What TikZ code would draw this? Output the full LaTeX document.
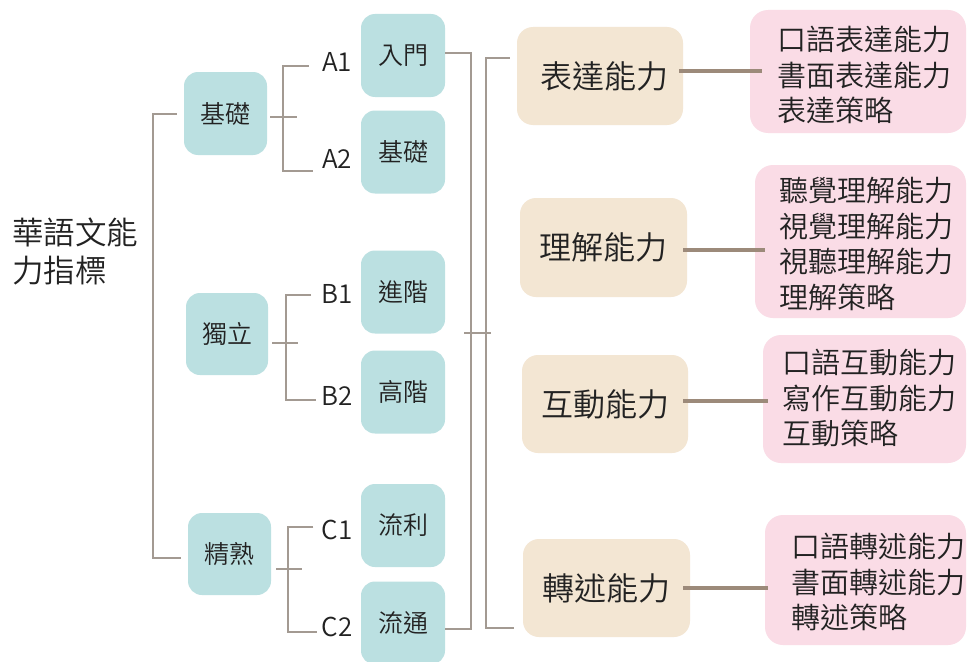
\documentclass[tikz,border=0pt]{standalone}
\usepackage{fontspec}
\setmainfont{Noto Sans CJK TC DemiLight}
\definecolor{teal1}{HTML}{BBE0E1}
\definecolor{beige1}{HTML}{F3E6D3}
\definecolor{pink1}{HTML}{FADCE6}
\definecolor{thinline}{HTML}{A39A92}
\definecolor{thickline}{HTML}{9C8A7A}
\definecolor{txt}{HTML}{222222}
\tikzset{
  tealbox/.style={fill=teal1, rounded corners=14pt, minimum width=84pt, minimum height=83pt, inner sep=0pt, text=txt, font=\fontsize{25}{29}\selectfont},
  beigebox/.style={fill=beige1, rounded corners=16pt, minimum width=166pt, minimum height=98pt, inner sep=0pt, text=txt, font=\fontsize{32}{36}\selectfont},
  pinkbox/.style={fill=pink1, rounded corners=18pt, inner sep=0pt},
  pinktext/.style={anchor=west, align=left, inner sep=0pt, text=txt, font=\fontsize{29}{35.5}\selectfont},
  lvl/.style={inner sep=0pt, text=txt, font=\fontsize{26}{30}\selectfont},
  thin/.style={draw=thinline, line width=1.3pt},
  thick/.style={draw=thickline, line width=3.2pt},
}
\begin{document}
\begin{tikzpicture}[x=1pt,y=-1pt]
\useasboundingbox (0,0) rectangle (971,661);
\clip (0,0) rectangle (971,661);
\fill[white] (0,0) rectangle (971,661);

% root
\node[anchor=west, align=left, inner sep=0pt, text=txt, font=\fontsize{31.5}{38}\selectfont] (root) at (12,251) {華語文能\\力指標};

% level 1
\node[tealbox, minimum width=83pt] (l1a) at (225.5,113.5) {基礎};
\node[tealbox, minimum width=82pt, minimum height=82pt] (l1b) at (227,334) {獨立};
\node[tealbox, minimum width=83pt, minimum height=82pt] (l1c) at (229.5,554) {精熟};

% labels
\node[lvl] (A1) at (337,62) {A1};
\node[lvl] (A2) at (337,159) {A2};
\node[lvl] (B1) at (337,294) {B1};
\node[lvl] (B2) at (337,396) {B2};
\node[lvl] (C1) at (337,530) {C1};
\node[lvl] (C2) at (337,627) {C2};

% level 2
\node[tealbox] (l2a) at (403,55.5) {入門};
\node[tealbox] (l2b) at (403,152) {基礎};
\node[tealbox] (l2c) at (403,292) {進階};
\node[tealbox] (l2d) at (403,392) {高階};
\node[tealbox] (l2e) at (403,525.5) {流利};
\node[tealbox] (l2f) at (403,623) {流通};

% level 3
\node[beigebox] (l3a) at (600,76) {\hspace*{8pt}表達能力};
\node[beigebox, minimum width=167pt, minimum height=99pt] (l3b) at (603.5,247.5) {理解能力};
\node[beigebox] (l3c) at (605,404) {互動能力};
\node[beigebox, minimum width=167pt] (l3d) at (606.5,588) {轉述能力};

% level 4
\node[pinkbox, minimum width=216pt, minimum height=123pt] (p1) at (858,71.5) {};
\node[pinkbox, minimum width=211pt, minimum height=153pt] (p2) at (860.5,241.5) {};
\node[pinkbox, minimum width=203pt, minimum height=128pt] (p3) at (864.5,399) {};
\node[pinkbox, minimum width=201pt, minimum height=130pt] (p4) at (865.5,580) {};
\node[pinktext] (t1) at (777,75) {口語表達能力\\書面表達能力\\表達策略};
\node[pinktext] (t2) at (779,244) {聽覺理解能力\\視覺理解能力\\視聽理解能力\\理解策略};
\node[pinktext] (t3) at (782,398) {口語互動能力\\寫作互動能力\\互動策略};
\node[pinktext] (t4) at (791,582) {口語轉述能力\\書面轉述能力\\轉述策略};

% root bracket
\coordinate (rt) at (153,114);
\coordinate (rb) at (153,558);
\draw[thin] ([xshift=-7pt]l1a.west |- rt) -- (rt) -- (rb) -- ([xshift=-7pt]l1c.west |- rb);

% A bracket
\coordinate (at) at (283,66);
\coordinate (ab) at (283,171);
\draw[thin] ([xshift=-13pt]A1.west |- at) -- (at) -- (ab) -- ([xshift=-9pt]A2.west |- ab);
\draw[thin] ([xshift=3pt]l1a.east |- 0,117) -- ++(27,0);

% B bracket
\coordinate (bt) at (286,295);
\coordinate (bb) at (286,400);
\draw[thin] ([xshift=-10pt]B1.west |- bt) -- (bt) -- (bb) -- ([xshift=-5pt]B2.west |- bb);
\draw[thin] ([xshift=4pt]l1b.east |- 0,343) -- ++(26,0);

% C bracket
\coordinate (ct) at (288,527);
\coordinate (cb) at (288,632);
\draw[thin] ([xshift=-8pt]C1.west |- ct) -- (ct) -- (cb) -- ([xshift=-4pt]C2.west |- cb);
\draw[thin] ([xshift=5pt]l1c.east |- 0,569) -- ++(26,0);

% level 2 right bracket
\coordinate (v1t) at (471,53);
\coordinate (v1b) at (471,629);
\draw[thin] (l2a.east |- v1t) -- (v1t) -- (v1b) -- (l2f.east |- v1b);
\coordinate (m1) at (464,333);
\coordinate (m2) at (491,333);
\draw[thin] (m1) -- (m2);
\coordinate (v2t) at (486,58);
\coordinate (v2b) at (486,628);
\draw[thin] ([xshift=-7pt]l3a.west |- v2t) -- (v2t) -- (v2b) -- ([xshift=-9pt]l3d.west |- v2b);

% thick connectors
\draw[thick] ([xshift=-4pt]l3a.east |- 0,71) -- ([xshift=12pt]p1.west |- 0,71);
\draw[thick] ([xshift=-4pt]l3b.east |- 0,250) -- ([xshift=10pt]p2.west |- 0,250);
\draw[thick] ([xshift=-5pt]l3c.east |- 0,401) -- ([xshift=5pt]p3.west |- 0,401);
\draw[thick] ([xshift=-7pt]l3d.east |- 0,588) -- ([xshift=3pt]p4.west |- 0,588);
\end{tikzpicture}
\end{document}
